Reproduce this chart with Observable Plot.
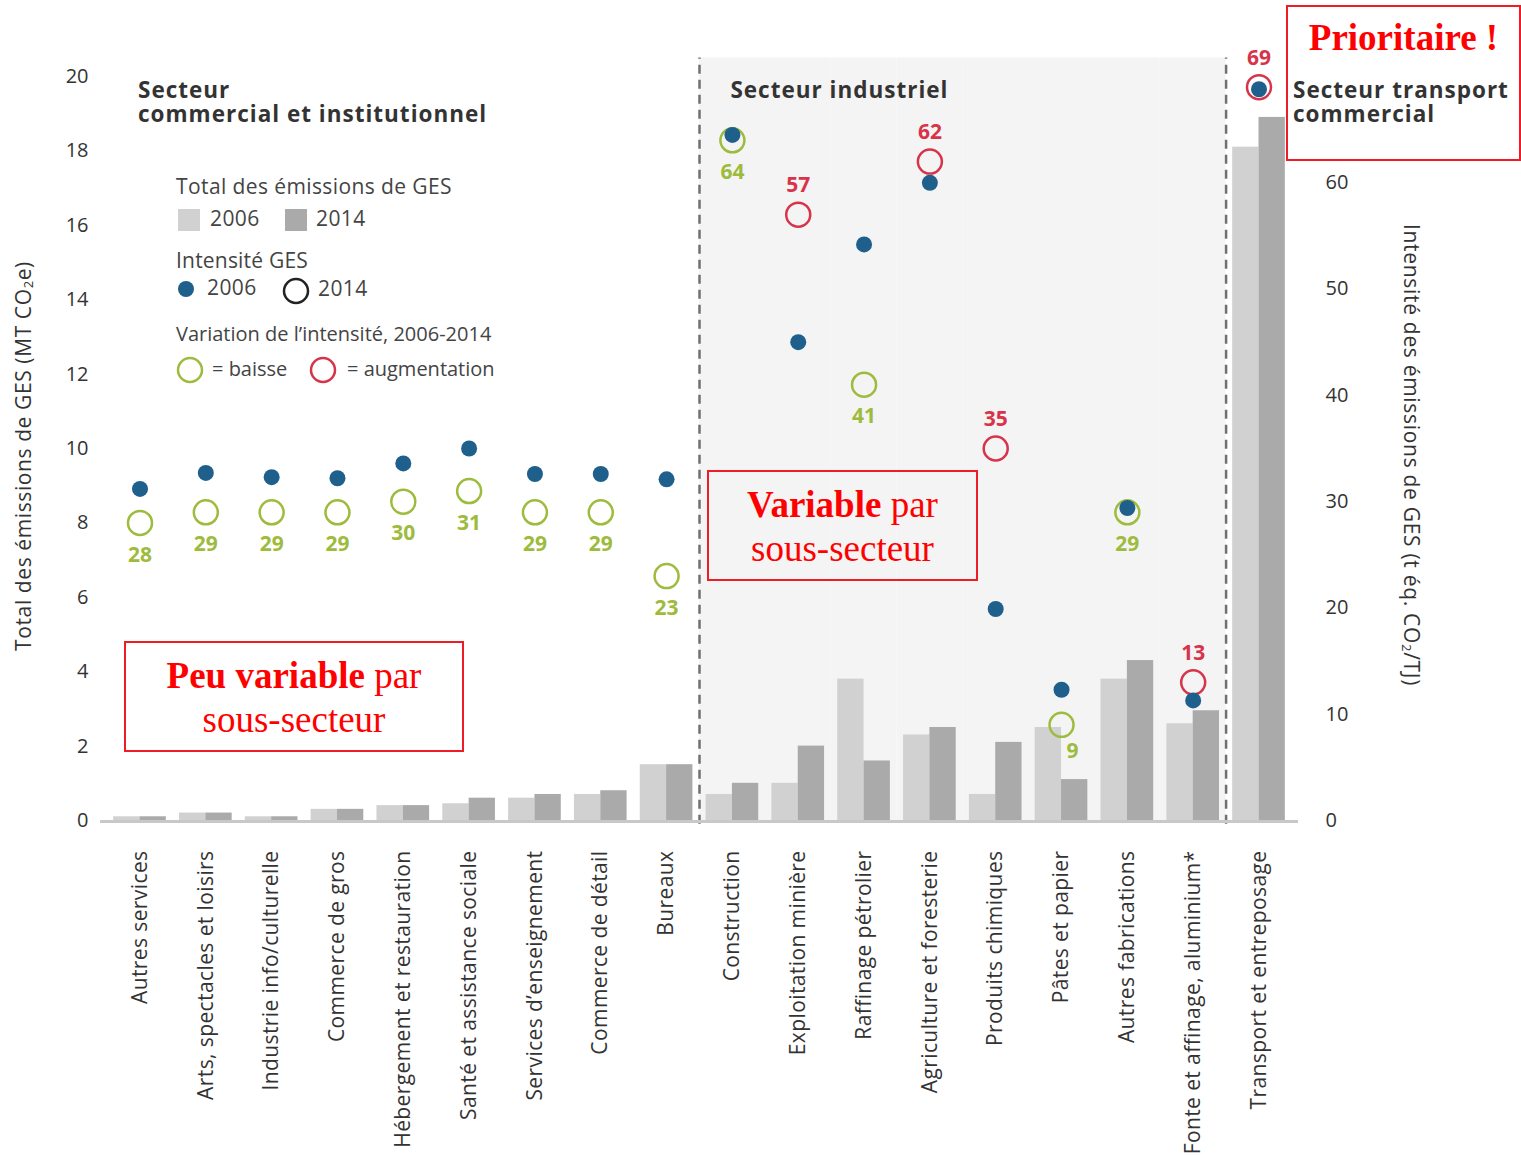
<!DOCTYPE html>
<html><head><meta charset="utf-8">
<script src="https://cdn.jsdelivr.net/npm/d3@7"></script>
<script src="https://cdn.jsdelivr.net/npm/@observablehq/plot@0.6"></script>
<style>
body{margin:0;background:#fff;}
#wrap{position:relative;width:1521px;height:1155px;overflow:hidden;font-family:"Open Sans",sans-serif;}
#wrap svg{position:absolute;left:0;top:0;}
.box{position:absolute;border:2px solid #ee1c24;box-sizing:border-box;font-family:"Liberation Serif","Times New Roman",serif;color:#ff0000;text-align:center;font-size:37px;line-height:44px;}
.box b{font-weight:bold;}
</style></head><body><div id="wrap"></div>
<script>
const categories = ["Autres services","Arts, spectacles et loisirs","Industrie info/culturelle","Commerce de gros","Hébergement et restauration","Santé et assistance sociale","Services d’enseignement","Commerce de détail","Bureaux","Construction","Exploitation minière","Raffinage pétrolier","Agriculture et foresterie","Produits chimiques","Pâtes et papier","Autres fabrications","Fonte et affinage, aluminium*","Transport et entreposage"];
const emissions2006 = [0.1,0.2,0.1,0.3,0.4,0.45,0.6,0.7,1.5,0.7,1.0,3.8,2.3,0.7,2.5,3.8,2.6,18.1];
const emissions2014 = [0.1,0.2,0.1,0.3,0.4,0.6,0.7,0.8,1.5,1.0,2.0,1.6,2.5,2.1,1.1,4.3,2.95,18.9];
const intensity2006 = [31.2,32.7,32.3,32.2,33.6,35.0,32.6,32.6,32.1,64.5,45.0,54.2,60.0,19.9,12.3,29.4,11.3,68.8];
const intensity2014 = [28,29,29,29,30,31,29,29,23,64,57,41,62,35,9,29,13,69];
const leftTicks = [0,2,4,6,8,10,12,14,16,18,20];
const rightTicks = [0,10,20,30,40,50,60];
const industrialCategories = categories.slice(9,17);
const sectorBoundaries = ["Construction","Transport et entreposage"];
const sectorTitles = [
  {text:"Secteur\ncommercial et institutionnel", at:"Autres services"},
  {text:"Secteur industriel", at:"Construction"}
];
const transportTitle = [{text:"Secteur transport\ncommercial", at:"Transport et entreposage"}];

const RATIO = 3.5; // intensity units per MT on the shared vertical scale
const BLUE = "#1f5f8c", GREEN = "#9dbb3c", RED = "#d7344b";
const LIGHT = "#d1d1d1", DARK = "#aaaaaa";

const rows = categories.map((c,i)=>({cat:c,e06:emissions2006[i],e14:emissions2014[i],i06:intensity2006[i],i14:intensity2014[i],up:intensity2014[i]>intensity2006[i]}));

const W=1521,H=1155,mL=100,mR=223,mT=76,mB=335,PAD=0.2;
const step=(W-mL-mR)/(categories.length+PAD);
const half=step*(1-PAD)/2;
const gap=step*PAD/2;
const FONT='"Open Sans",sans-serif';

const chart = Plot.plot({
  width:W,height:H,marginLeft:mL,marginRight:mR,marginTop:mT,marginBottom:mB,
  style:{fontFamily:FONT,fontSize:"20px",color:"#333",background:"transparent",overflow:"visible"},
  x:{domain:categories,padding:PAD,round:false,label:null},
  y:{domain:[0,20],label:null},
  marks:[
    Plot.barY(industrialCategories,{x:d=>d,y1:0,y2:20.5,fill:"#f4f4f4",insetLeft:-gap,insetRight:-gap}),
    Plot.ruleX(sectorBoundaries,{x:d=>d,dx:-step/2,y1:-0.1,y2:20.5,stroke:"#707070",strokeWidth:2.5,strokeDasharray:"9,6"}),
    Plot.barY(rows,{x:"cat",y:"e06",fill:LIGHT,insetRight:half}),
    Plot.barY(rows,{x:"cat",y:"e14",fill:DARK,insetLeft:half}),
    Plot.ruleY([0],{stroke:"#c8c8c8",strokeWidth:3,dy:1}),
    Plot.axisY({anchor:"left",ticks:leftTicks,tickSize:0,tickPadding:12,fontSize:20,label:null}),
    Plot.axisY({anchor:"right",ticks:rightTicks.map(v=>v/RATIO),tickFormat:v=>String(Math.round(v*RATIO)),tickSize:0,tickPadding:27,fontSize:20,label:null}),
    Plot.axisX({tickRotate:-90,tickSize:0,tickPadding:30,fontSize:21,label:null}),
    Plot.dot(rows,{x:"cat",y:d=>d.i14/RATIO,r:12,stroke:d=>d.up?RED:GREEN,strokeWidth:2.5,fill:"none"}),
    Plot.dot(rows,{x:"cat",y:d=>d.i06/RATIO,r:8,fill:BLUE}),
    Plot.text(rows.filter(d=>d.up),{x:"cat",y:d=>d.i14/RATIO,text:d=>String(d.i14),dy:-29,fill:RED,fontWeight:"bold",fontSize:21}),
    Plot.text(rows.filter(d=>!d.up && d.cat!=="Pâtes et papier"),{x:"cat",y:d=>d.i14/RATIO,text:d=>String(d.i14),dy:32,fill:GREEN,fontWeight:"bold",fontSize:21}),
    Plot.text(rows.filter(d=>d.cat==="Pâtes et papier"),{x:"cat",y:d=>d.i14/RATIO,text:d=>String(d.i14),dx:11,dy:26,fill:GREEN,fontWeight:"bold",fontSize:21}),
    Plot.text(sectorTitles,{x:"at",y:20,text:"text",textAnchor:"start",lineAnchor:"top",dx:-2,dy:4,fontSize:22.5,fontWeight:"bold",fill:"#333",lineHeight:1.08}),
    Plot.text(transportTitle,{x:"at",y:20,text:"text",textAnchor:"start",lineAnchor:"top",dx:34,dy:4,fontSize:22.5,fontWeight:"bold",fill:"#333",lineHeight:1.08})
  ]
});

const svg = d3.select(chart);
// letter spacing for text classes
svg.selectAll("[aria-label='x-axis tick label'] text").attr("letter-spacing","0.4px");
svg.selectAll("[aria-label='text'] text").filter(function(){return this.textContent.length>3||this.querySelector("tspan");}).attr("letter-spacing","1px");
svg.selectAll("[aria-label='text'] tspan").attr("letter-spacing","1px");

// axis titles
const lt = svg.append("text").attr("transform","translate(25,456) rotate(-90)")
  .attr("text-anchor","middle").attr("dominant-baseline","middle").attr("letter-spacing","0.6px")
  .attr("font-family",FONT).attr("font-size",21).attr("fill","#333");
lt.append("tspan").text("Total des émissions de GES (MT CO");
lt.append("tspan").attr("font-size",13).attr("dy",5).text("2");
lt.append("tspan").attr("dy",-5).text("e)");
const rt = svg.append("text").attr("transform","translate(1410,455) rotate(90)")
  .attr("text-anchor","middle").attr("dominant-baseline","middle").attr("letter-spacing","0.7px")
  .attr("font-family",FONT).attr("font-size",21).attr("fill","#333");
rt.append("tspan").text("Intensité des émissions de GES (t éq. CO");
rt.append("tspan").attr("font-size",13).attr("dy",5).text("2");
rt.append("tspan").attr("dy",-5).text("/TJ)");

// legend
const lg = svg.append("g").attr("font-family",FONT).attr("fill","#444").attr("text-anchor","start");
const lab = (x,y,t,fs,ls)=>lg.append("text").attr("x",x).attr("y",y).attr("dominant-baseline","middle").attr("font-size",fs).attr("letter-spacing",(ls||0)+"px").text(t);
lab(176,188,"Total des émissions de GES",21,0.4);
lg.append("rect").attr("x",178).attr("y",209).attr("width",22).attr("height",22).attr("fill",LIGHT);
lab(210,220,"2006",21,0.4);
lg.append("rect").attr("x",285).attr("y",209).attr("width",22).attr("height",22).attr("fill",DARK);
lab(316,220,"2014",21,0.4);
lab(176,262,"Intensité GES",21,0.2);
lg.append("circle").attr("cx",186).attr("cy",289).attr("r",8).attr("fill",BLUE);
lab(207,289,"2006",21,0.4);
lg.append("circle").attr("cx",296).attr("cy",291).attr("r",12).attr("fill","none").attr("stroke","#222").attr("stroke-width",2.5);
lab(318,290,"2014",21,0.4);
lab(176,336,"Variation de l’intensité, 2006-2014",20,0);
lg.append("circle").attr("cx",190).attr("cy",370).attr("r",12).attr("fill","none").attr("stroke",GREEN).attr("stroke-width",2.5);
lab(212,371,"= baisse",20,0);
lg.append("circle").attr("cx",323).attr("cy",370).attr("r",12).attr("fill","none").attr("stroke",RED).attr("stroke-width",2.5);
lab(347,371,"= augmentation",20,0);

const wrap = document.getElementById("wrap");
wrap.appendChild(chart);

// annotation boxes
const boxes = [
  {left:124,top:641,width:340,height:111,html:"<b>Peu variable</b> par<br>sous-secteur",pad:11},
  {left:707,top:470,width:271,height:111,html:"<b>Variable</b> par<br>sous-secteur",pad:11},
  {left:1286,top:5,width:235,height:156,html:"<b>Prioritaire !</b>",pad:9}
];
for (const b of boxes){
  const d=document.createElement("div");
  d.className="box";
  Object.assign(d.style,{left:b.left+"px",top:b.top+"px",width:b.width+"px",height:b.height+"px",paddingTop:b.pad+"px"});
  d.innerHTML=b.html;
  wrap.appendChild(d);
}
</script></body></html>
